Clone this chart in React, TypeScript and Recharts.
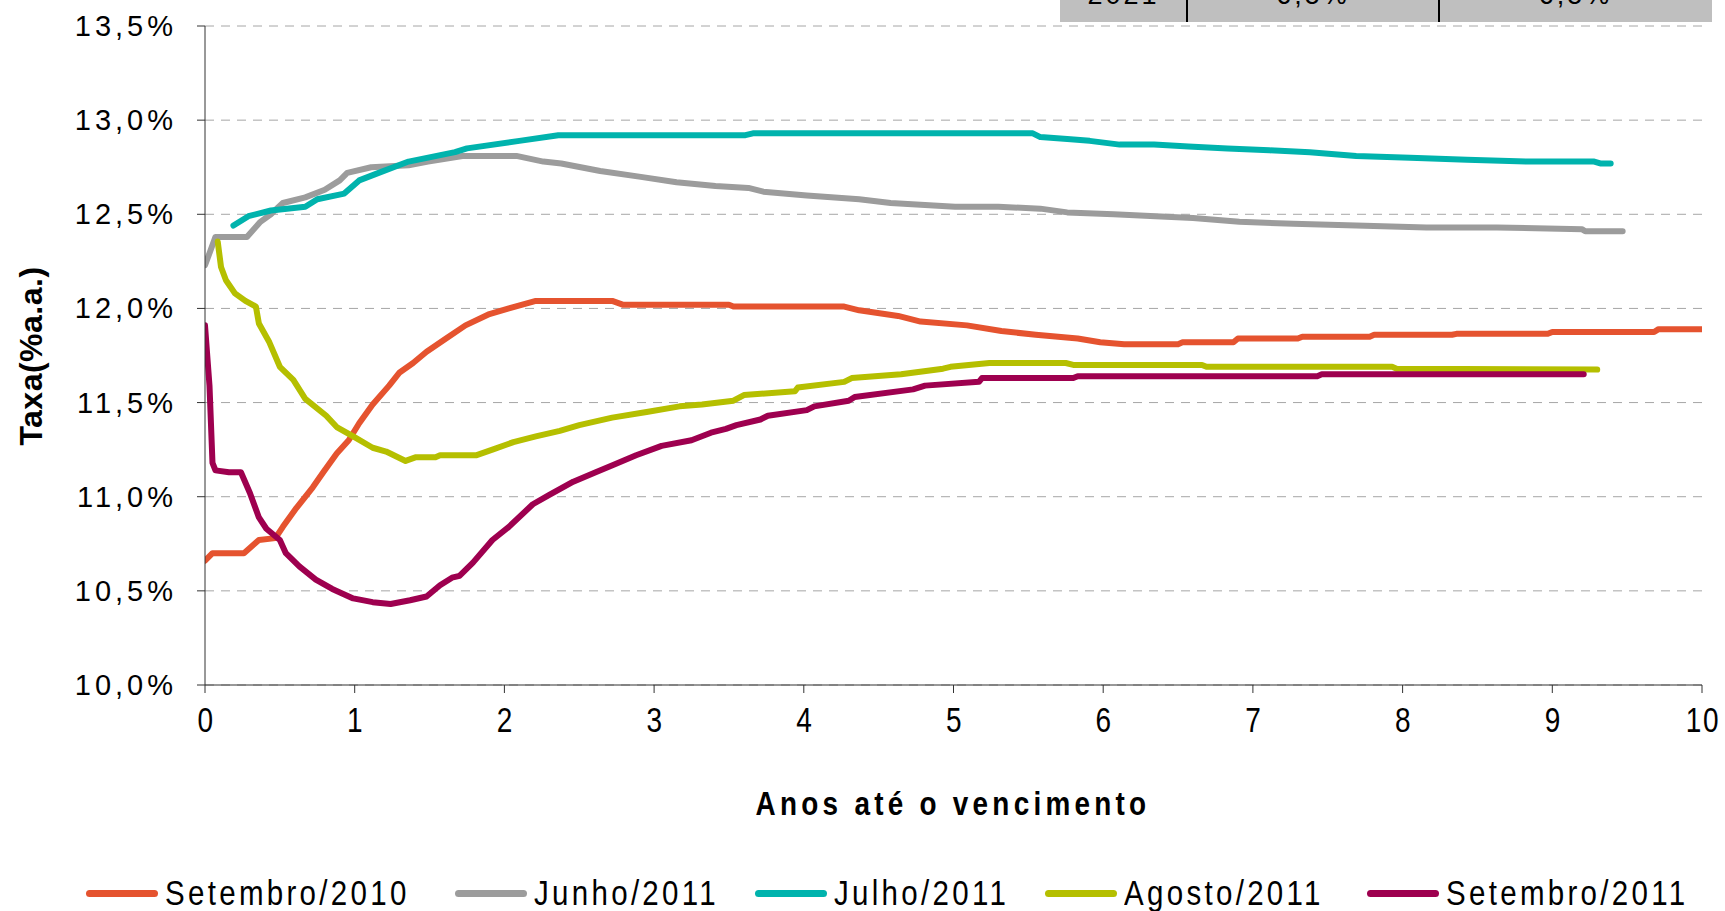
import React from 'react';
import { LineChart, Line, XAxis, YAxis, CartesianGrid } from 'recharts';

type Ponto = [number, number];

// anos até o vencimento, taxa (% a.a.)
const setembro2010: Ponto[] = [
  [0, 10.66], [0.05, 10.7], [0.26, 10.7], [0.36, 10.77], [0.47, 10.78], [0.52, 10.84],
  [0.61, 10.94], [0.72, 11.05], [0.79, 11.13], [0.88, 11.23], [0.96, 11.3], [1.03, 11.39],
  [1.12, 11.49], [1.23, 11.59], [1.3, 11.66], [1.39, 11.71], [1.48, 11.77], [1.61, 11.84],
  [1.74, 11.91], [1.9, 11.97], [2.03, 12.0], [2.21, 12.04], [2.72, 12.04], [2.79, 12.02],
  [3.5, 12.02], [3.53, 12.01], [4.27, 12.01], [4.37, 11.99], [4.63, 11.96], [4.78, 11.93],
  [5.09, 11.91], [5.32, 11.88], [5.55, 11.86], [5.83, 11.84], [5.98, 11.82], [6.14, 11.81],
  [6.5, 11.81], [6.53, 11.82], [6.87, 11.82], [6.9, 11.84], [7.3, 11.84], [7.33, 11.85],
  [7.78, 11.85], [7.81, 11.86], [8.33, 11.86], [8.36, 11.865], [8.97, 11.865], [9.0, 11.875],
  [9.68, 11.875], [9.71, 11.89], [10, 11.89],
];

const junho2011: Ponto[] = [
  [0, 12.23], [0.033, 12.3], [0.07, 12.38], [0.28, 12.38], [0.37, 12.46], [0.44, 12.5],
  [0.52, 12.56], [0.67, 12.59], [0.8, 12.63], [0.9, 12.68], [0.95, 12.72], [1.11, 12.75],
  [1.36, 12.76], [1.49, 12.78], [1.72, 12.81], [2.08, 12.81], [2.26, 12.78], [2.38, 12.77],
  [2.64, 12.73], [2.9, 12.7], [3.15, 12.67], [3.41, 12.65], [3.63, 12.64], [3.73, 12.62],
  [4.02, 12.6], [4.37, 12.58], [4.58, 12.56], [5.01, 12.54], [5.3, 12.54], [5.58, 12.53],
  [5.76, 12.51], [6.07, 12.5], [6.35, 12.49], [6.6, 12.48], [6.91, 12.46], [7.27, 12.45],
  [7.69, 12.44], [8.16, 12.43], [8.63, 12.43], [9.2, 12.42], [9.22, 12.41], [9.47, 12.41],
];

const julho2011: Ponto[] = [
  [0.19, 12.44], [0.29, 12.49], [0.44, 12.52], [0.67, 12.54], [0.75, 12.58], [0.93, 12.61],
  [1.03, 12.68], [1.16, 12.72], [1.36, 12.78], [1.67, 12.83], [1.75, 12.85], [2.1, 12.89],
  [2.36, 12.92], [3.61, 12.92], [3.66, 12.93], [5.53, 12.93], [5.58, 12.91], [5.76, 12.9],
  [5.91, 12.89], [6.11, 12.87], [6.34, 12.87], [6.57, 12.86], [6.83, 12.85], [7.11, 12.84],
  [7.38, 12.83], [7.69, 12.81], [8.05, 12.8], [8.43, 12.79], [8.83, 12.78], [9.28, 12.78],
  [9.32, 12.77], [9.39, 12.77],
];

const agosto2011: Ponto[] = [
  [0.085, 12.355], [0.107, 12.22], [0.14, 12.15], [0.2, 12.08], [0.27, 12.04], [0.34, 12.01],
  [0.36, 11.92], [0.43, 11.82], [0.5, 11.69], [0.59, 11.62], [0.67, 11.52], [0.81, 11.43],
  [0.88, 11.37], [0.99, 11.32], [1.12, 11.26], [1.21, 11.24], [1.34, 11.19], [1.41, 11.21],
  [1.54, 11.21], [1.57, 11.22], [1.81, 11.22], [1.92, 11.25], [2.06, 11.29], [2.21, 11.32],
  [2.37, 11.35], [2.5, 11.38], [2.72, 11.42], [2.95, 11.45], [3.17, 11.48], [3.32, 11.49],
  [3.53, 11.51], [3.6, 11.54], [3.94, 11.56], [3.96, 11.58], [4.27, 11.61], [4.32, 11.63],
  [4.65, 11.65], [4.93, 11.68], [4.98, 11.69], [5.24, 11.71], [5.75, 11.71], [5.8, 11.7],
  [6.66, 11.7], [6.69, 11.69], [7.93, 11.69], [7.96, 11.68], [9.3, 11.675],
];

const setembro2011: Ponto[] = [
  [0, 11.91], [0.03, 11.59], [0.05, 11.18], [0.07, 11.14], [0.16, 11.13], [0.24, 11.13],
  [0.3, 11.02], [0.36, 10.89], [0.41, 10.83], [0.5, 10.77], [0.54, 10.7], [0.63, 10.63],
  [0.74, 10.56], [0.85, 10.51], [0.99, 10.46], [1.12, 10.44], [1.24, 10.43], [1.37, 10.45],
  [1.48, 10.47], [1.57, 10.53], [1.65, 10.57], [1.7, 10.58], [1.79, 10.65], [1.92, 10.77],
  [2.03, 10.84], [2.19, 10.96], [2.3, 11.01], [2.46, 11.08], [2.61, 11.13], [2.73, 11.17],
  [2.88, 11.22], [3.05, 11.27], [3.25, 11.3], [3.38, 11.34], [3.48, 11.36], [3.55, 11.38],
  [3.71, 11.41], [3.76, 11.43], [4.02, 11.46], [4.07, 11.48], [4.3, 11.51], [4.34, 11.53],
  [4.73, 11.57], [4.81, 11.59], [5.17, 11.61], [5.19, 11.63], [5.8, 11.63], [5.83, 11.64],
  [7.43, 11.64], [7.46, 11.65], [9.21, 11.65],
];

const yTicks = [10, 10.5, 11, 11.5, 12, 12.5, 13, 13.5];
const xTicks = [0, 1, 2, 3, 4, 5, 6, 7, 8, 9, 10];

// pedaço da tabela que aparece cortado no topo
const tabelaTopo = ['2021', '6,5%', '6,5%'];

const series = [
  { nome: 'Setembro/2010', cor: '#E5532F', pontos: setembro2010 },
  { nome: 'Junho/2011', cor: '#9C9C9C', pontos: junho2011 },
  { nome: 'Julho/2011', cor: '#00B3AD', pontos: julho2011 },
  { nome: 'Agosto/2011', cor: '#B5BF00', pontos: agosto2011 },
  { nome: 'Setembro/2011', cor: '#9E004F', pontos: setembro2011 },
];

// onde começa cada item da legenda (px)
const legendaX = [86, 455, 755, 1045, 1367];

const ARIAL = "'Liberation Sans', Arial, sans-serif";
// sem Arial Narrow: fonte menor esticada na vertical
const ALTURA = 1.22;

const fmtTaxa = (v: number) => v.toFixed(1).replace('.', ',') + '%';

const YTick = (props: any) => {
  const { x, y, payload } = props;
  return (
    <text x={x + 4} y={y} dy={10} textAnchor="end" fontFamily={ARIAL} fontSize={29} letterSpacing={4} fill="#000">
      {fmtTaxa(payload.value)}
    </text>
  );
};

const XTick = (props: any) => {
  const { x, y, payload } = props;
  return (
    <g transform={`translate(${x},${y + 25}) scale(1,${ALTURA})`}>
      <text x={1} y={0} dy={10} textAnchor="middle" fontFamily={ARIAL} fontSize={28} letterSpacing={1.6} fill="#000">
        {payload.value}
      </text>
    </g>
  );
};

export default function App() {
  return (
    <div style={{ position: 'absolute', left: 0, top: 0, width: 1725, height: 911, background: '#fff', overflow: 'hidden' }}>
      <div
        style={{
          position: 'absolute', left: 1060, top: 0, width: 652, height: 22, background: '#BFBFBF',
          overflow: 'hidden', fontFamily: ARIAL, fontSize: 27, color: '#000',
        }}
      >
        {tabelaTopo.map((t, i) => {
          const cols = [[0, 127], [127, 252], [379, 273]];
          return (
            <div key={i} style={{ position: 'absolute', left: cols[i][0], width: cols[i][1], top: -18, textAlign: 'center', lineHeight: '27px', letterSpacing: 3 }}>
              {t}
            </div>
          );
        })}
        <div style={{ position: 'absolute', left: 126, top: 0, width: 2, height: 22, background: '#000' }} />
        <div style={{ position: 'absolute', left: 378, top: 0, width: 2, height: 22, background: '#000' }} />
      </div>

      <div style={{ position: 'absolute', left: 0, top: 0 }}>
        <LineChart width={1725} height={911} margin={{ top: 26, right: 23, bottom: 0, left: 0 }}>
          <CartesianGrid horizontal vertical={false} stroke="#A6A6A6" strokeDasharray="9 7" />
          <XAxis
            type="number"
            dataKey="anos"
            domain={[0, 10]}
            ticks={xTicks}
            height={226}
            tickSize={8}
            tickLine={{ stroke: '#333' }}
            axisLine={{ stroke: '#333' }}
            tick={<XTick />}
            interval={0}
            allowDataOverflow
          />
          <YAxis
            type="number"
            dataKey="taxa"
            domain={[10, 13.5]}
            ticks={yTicks}
            width={205}
            tickSize={8}
            tickMargin={24}
            tickLine={{ stroke: '#333' }}
            axisLine={{ stroke: '#333' }}
            tick={<YTick />}
            interval={0}
            allowDataOverflow
          />
          {series.map((s) => (
            <Line
              key={s.nome}
              data={s.pontos.map(([anos, taxa]) => ({ anos, taxa }))}
              dataKey="taxa"
              name={s.nome}
              type="linear"
              stroke={s.cor}
              strokeWidth={6}
              strokeLinecap="round"
              strokeLinejoin="round"
              dot={false}
              activeDot={false}
              isAnimationActive={false}
            />
          ))}
        </LineChart>
      </div>

      <div
        style={{
          position: 'absolute', left: 31, top: 356, transform: 'translate(-50%, -50%) rotate(-90deg)',
          whiteSpace: 'nowrap', fontFamily: ARIAL, fontWeight: 'bold', fontSize: 32, letterSpacing: 0.5, color: '#000',
        }}
      >
        Taxa(%a.a.)
      </div>

      <div
        style={{
          position: 'absolute', left: 953, top: 804, transform: `translate(-50%, -50%) scale(1, ${ALTURA})`,
          whiteSpace: 'nowrap', fontFamily: ARIAL, fontWeight: 'bold', fontSize: 27.9, letterSpacing: 4.26, color: '#000',
        }}
      >
        Anos até o vencimento
      </div>

      {series.map((s, i) => (
        <div key={s.nome} style={{ position: 'absolute', left: legendaX[i], top: 873, height: 40, display: 'flex', alignItems: 'center' }}>
          <span style={{ display: 'inline-block', width: 72, height: 7, borderRadius: 4, background: s.cor, marginRight: 7 }} />
          <span
            style={{
              display: 'inline-block', fontFamily: ARIAL, fontSize: 29.5, letterSpacing: 3.3, color: '#000',
              whiteSpace: 'nowrap', transform: `scale(1, ${ALTURA})`, transformOrigin: 'center',
            }}
          >
            {s.nome}
          </span>
        </div>
      ))}
    </div>
  );
}
